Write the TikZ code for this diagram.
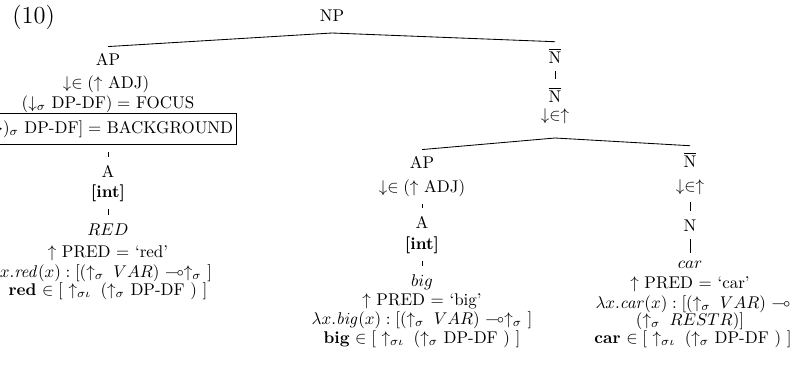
\documentclass[tikz,border=0pt]{standalone}
\usepackage{amssymb}
\usepackage{tikz}
\usetikzlibrary{positioning}
\tikzset{
  lfgline/.style={anchor=base, inner sep=0pt},
  lfgbox/.style={anchor=base east, draw, line width=0.5pt, inner xsep=2pt, inner ysep=4pt},
  treeedge/.style={line width=0.5pt, draw=black},
  stemedge/.style={line width=0.5pt, draw=black, shorten <=4.5pt, shorten >=4.5pt}
}

\begin{document}
\begin{tikzpicture}[x=0.0207cm, y=-0.0207cm]
  \useasboundingbox (0,0) rectangle (796,369);
  \node[lfgline, anchor=base west, font=\Large] (exno) at (12,24) {(10)};

  % top
  \node[lfgline] (np) at (332,22) {NP};
  \coordinate (npfoot) at (332,33);

  % left
  \node[lfgline] (apL) at (108,65) {AP};
  \node[lfgline] (apLadj) at (106,89) {$\downarrow\in(\uparrow$ ADJ$)$};
  \node[lfgline] (apLfoc) at (108,108) {$(\downarrow_\sigma$ DP-DF$) =$ FOCUS};
  \node[lfgbox] (apLbg) at (237,133) {$[(\uparrow_\sigma\,\downarrow{\rightarrow})_\sigma$ DP-DF$] =$ BACKGROUND};
  \node[lfgline] (aL) at (108,177) {A};
  \node[lfgline] (aLint) at (108,197) {\textbf{[int]}};
  \node[lfgline] (redL) at (108,235) {$RED$};
  \node[lfgline] (redLpred) at (108,257) {$\uparrow$ PRED $=$ `red'};
  \node[lfgline] (redLsem) at (101,277) {$\lambda x.\mathit{red}(x) : [(\uparrow_\sigma\; VAR)\ {\multimap}{\uparrow_\sigma}\ ]$};
  \node[lfgline] (redLdf) at (108,295) {\textbf{red} $\in [\ \uparrow_{\sigma\iota}\; (\uparrow_\sigma$ DP-DF $)\ ]$};
  \draw[treeedge] ([yshift=3.5pt]apL.north) -- (npfoot);
  \draw[stemedge] (aL.north |- apLbg.south) -- (aL.north);
  \draw[stemedge] (aLint.south) -- (redL.north);

  % right
  \node[lfgline] (nbarA) at (555,63) {$\overline{\mathrm{N}}$};
  \node[lfgline] (nbarB) at (555,102) {$\overline{\mathrm{N}}$};
  \node[lfgline] (nbarBdf) at (555,120) {$\downarrow\in\uparrow$};
  \coordinate (nbfoot) at (555,138);
  \draw[treeedge] (npfoot) -- ([yshift=3.5pt]nbarA.north);
  \draw[stemedge] (nbarA.south) -- (nbarB.north);

  % middle
  \node[lfgline] (apM) at (422,168) {AP};
  \node[lfgline] (apMadj) at (422,192) {$\downarrow\in(\uparrow$ ADJ$)$};
  \node[lfgline] (aM) at (422,228) {A};
  \node[lfgline] (aMint) at (422,249) {\textbf{[int]}};
  \node[lfgline] (bigM) at (422,286) {$big$};
  \node[lfgline] (bigMpred) at (422,305) {$\uparrow$ PRED $=$ `big'};
  \node[lfgline] (bigMsem) at (422,324) {$\lambda x.\mathit{big}(x) : [(\uparrow_\sigma\; VAR)\ {\multimap}{\uparrow_\sigma}\ ]$};
  \node[lfgline] (bigMdf) at (422,343) {\textbf{big} $\in [\ \uparrow_{\sigma\iota}\; (\uparrow_\sigma$ DP-DF $)\ ]$};
  \draw[treeedge] ([yshift=3.5pt]apM.north) -- (nbfoot);
  \draw[stemedge] (apMadj.south) -- (aM.north);
  \draw[stemedge] (aMint.south) -- (bigM.north);

  % far right
  \node[lfgline] (nbarR) at (690,167) {$\overline{\mathrm{N}}$};
  \node[lfgline] (nbarRdf) at (690,191) {$\downarrow\in\uparrow$};
  \node[lfgline] (nR) at (690,231) {N};
  \node[lfgline] (carR) at (690,268) {$car$};
  \node[lfgline] (carRpred) at (690,288) {$\uparrow$ PRED $=$ `car'};
  \node[lfgline] (carRsemA) at (693,308) {$\lambda x.\mathit{car}(x) : [(\uparrow_\sigma\; VAR)\ {\multimap}$};
  \node[lfgline] (carRsemB) at (690,325) {$(\uparrow_\sigma\; RESTR)]$};
  \node[lfgline] (carRdf) at (693,343) {\textbf{car} $\in [\ \uparrow_{\sigma\iota}\; (\uparrow_\sigma$ DP-DF $)\ ]$};
  \draw[treeedge] (nbfoot) -- ([yshift=3.5pt]nbarR.north);
  \draw[stemedge] (nbarRdf.south) -- (nR.north);
  \draw[stemedge] (nR.south) -- (carR.north);
\end{tikzpicture}
\end{document}
